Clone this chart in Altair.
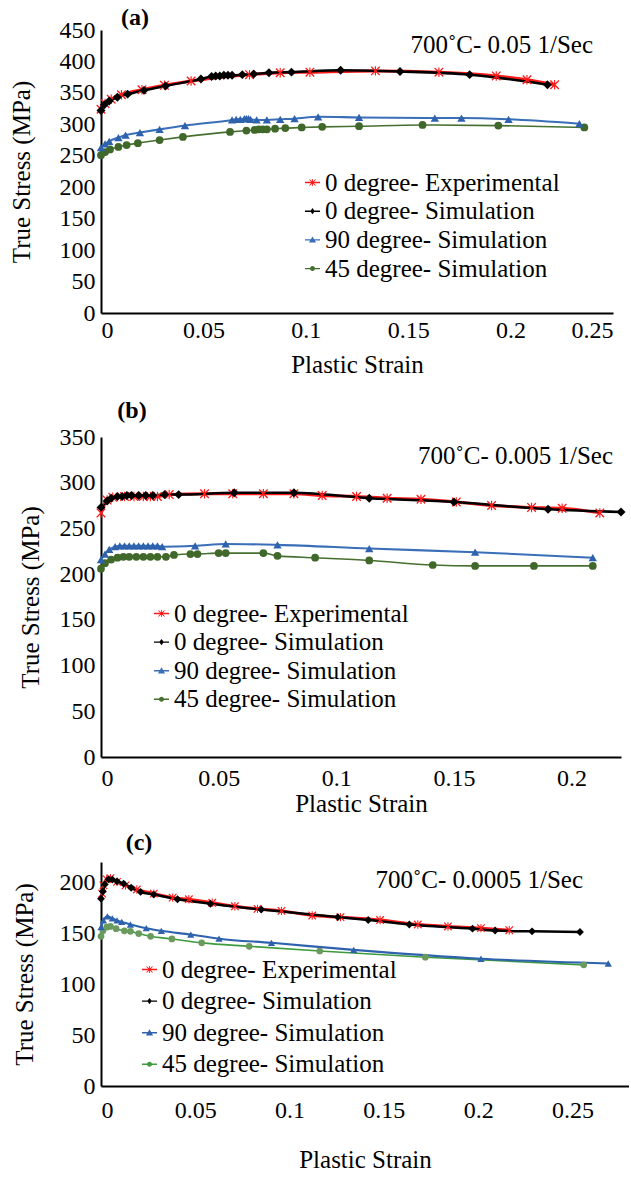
import altair as alt
import pandas as pd

SERIES = ["0 degree- Experimental", "0 degree- Simulation",
          "90 degree- Simulation", "45 degree- Simulation"]
KEYS = ["exp", "sim0", "sim90", "sim45"]

# ---------------- Panel (a): 700C - 0.05 1/s ----------------
A_EXP_X = [0, 0.002, 0.005, 0.01, 0.02, 0.031, 0.044, 0.0725, 0.0875, 0.102, 0.134, 0.165, 0.193, 0.208, 0.2215]
A_EXP_Y = [324, 333, 340, 347, 355, 362, 369, 379, 382, 383, 385, 383, 377, 371, 363]
A_SIM0_X = [0, 0.0016, 0.004, 0.008, 0.013, 0.021, 0.0315, 0.0488, 0.054, 0.056, 0.058, 0.06, 0.062,
            0.064, 0.069, 0.0746, 0.082, 0.093, 0.117, 0.146, 0.18, 0.218]
A_SIM0_Y = [322, 331, 337, 343, 348, 354, 361, 372, 376, 377, 377, 378, 378,
            378, 379, 380, 382, 383, 386, 384, 379, 363]
A_SIM90_X = [0, 0.002, 0.004, 0.0085, 0.012, 0.019, 0.0286, 0.041, 0.064, 0.066, 0.068, 0.07, 0.071,
             0.072, 0.073, 0.076, 0.081, 0.0875, 0.0945, 0.106, 0.126, 0.163, 0.176, 0.199, 0.2336]
A_SIM90_Y = [263, 269, 273, 279, 283, 287, 292, 298, 307, 308, 308, 309, 309,
             309, 308, 307, 307, 308, 309, 312, 311, 310, 310, 308, 301]
A_SIM45_X = [0, 0.002, 0.0044, 0.0085, 0.0125, 0.018, 0.0286, 0.04, 0.063, 0.071, 0.075, 0.077, 0.079,
             0.081, 0.085, 0.09, 0.098, 0.108, 0.126, 0.157, 0.194, 0.236]
A_SIM45_Y = [251, 256, 260, 264, 267, 270, 275, 280, 288, 290, 291, 292, 292,
             292, 293, 294, 295, 296, 297, 299, 298, 295]

# ---------------- Panel (b): 700C - 0.005 1/s ----------------
B_EXP_X = [0, 0.0026, 0.005, 0.01, 0.014, 0.018, 0.021, 0.024, 0.029, 0.044, 0.056, 0.069, 0.082,
           0.094, 0.1086, 0.1216, 0.136, 0.151, 0.166, 0.183, 0.196, 0.212]
B_EXP_Y = [267, 281, 284, 285, 285, 285, 285, 285, 287, 288, 288, 288, 288,
           286, 285, 283, 282, 279, 275, 273, 272, 267]
B_SIM0_X = [0, 0.0026, 0.0043, 0.007, 0.009, 0.011, 0.013, 0.016, 0.019, 0.022, 0.027, 0.033,
            0.0566, 0.082, 0.114, 0.15, 0.19, 0.221]
B_SIM0_Y = [273, 280, 283, 285, 285, 286, 286, 286, 286, 286, 287, 287,
            289, 289, 283, 279, 271, 268]
B_SIM90_X = [0, 0.0017, 0.0035, 0.006, 0.008, 0.01, 0.012, 0.014, 0.016, 0.018, 0.02, 0.022,
             0.024, 0.026, 0.04, 0.053, 0.075, 0.114, 0.159, 0.209]
B_SIM90_Y = [216, 222, 227, 230, 231, 231, 231, 231, 231, 231, 231, 231,
             231, 230, 231, 233, 232, 228, 224, 218]
B_SIM45_X = [0, 0.0017, 0.0043, 0.007, 0.0095, 0.012, 0.015, 0.018, 0.021, 0.024, 0.0276, 0.031,
             0.038, 0.041, 0.05, 0.053, 0.069, 0.075, 0.091, 0.114, 0.141, 0.159, 0.184, 0.209]
B_SIM45_Y = [206, 212, 216, 218, 219, 219, 219, 219, 219, 219, 219, 221,
             222, 222, 223, 223, 223, 220, 218, 215, 210, 209, 209, 209]

# ---------------- Panel (c): 700C - 0.0005 1/s ----------------
C_EXP_X = [0.0006, 0.0013, 0.003, 0.005, 0.0085, 0.013, 0.019, 0.028, 0.038, 0.0466, 0.059, 0.071,
           0.083, 0.0957, 0.112, 0.127, 0.148, 0.168, 0.184, 0.2015, 0.2165]
C_EXP_Y = [189, 197, 203, 204, 200.5, 197, 193, 189, 185, 183.4, 180, 176.5,
           174, 172, 167.4, 165.8, 163, 158.6, 156.7, 155, 153]
C_SIM0_X = [0, 0.001, 0.002, 0.004, 0.006, 0.0085, 0.012, 0.016, 0.021, 0.028, 0.0406, 0.058,
            0.085, 0.1256, 0.1417, 0.1635, 0.197, 0.209, 0.2286, 0.254]
C_SIM0_Y = [184, 191, 198, 203, 202.7, 201, 198.7, 194.7, 190.6, 188, 183.4, 179,
            173.3, 165.8, 163, 158.6, 154.5, 152.7, 151.9, 151.3]
C_SIM90_X = [0, 0.0013, 0.0034, 0.006, 0.0085, 0.011, 0.0156, 0.024, 0.032, 0.0476, 0.0626,
             0.0904, 0.134, 0.2015, 0.269]
C_SIM90_Y = [156, 162.6, 166.6, 164.7, 162.6, 161.2, 158.6, 155, 152.4, 148.7, 144.7,
             140.6, 133.7, 125, 120.3]
C_SIM45_X = [0, 0.001, 0.003, 0.005, 0.008, 0.0124, 0.0156, 0.02, 0.0263, 0.0376, 0.0534,
             0.0786, 0.116, 0.172, 0.256]
C_SIM45_Y = [147, 152.4, 156, 156.7, 154.5, 152.4, 151.9, 149.7, 147, 144.4, 140.6,
             137.2, 132.6, 126.5, 119]

FONT = "Liberation Serif"
STAR = ("M-1,-0.8L-0.8,-1L0,-0.2L0.8,-1L1,-0.8L0.2,0L1,0.8L0.8,1L0,0.2L-0.8,1L-1,0.8L-0.2,0Z"
        "M-0.12,-1L0.12,-1L0.12,1L-0.12,1Z")
SHAPES = [STAR, "diamond", "triangle-up", "circle"]
# legend symbols: short line segment with the marker on it (Excel style)
SEG = "M-1.8,-0.17L1.8,-0.17L1.8,0.17L-1.8,0.17Z"
LEG_SHAPES = [
    SEG + "M-0.8,-0.65L-0.65,-0.8L0,-0.15L0.65,-0.8L0.8,-0.65L0.15,0L0.8,0.65L0.65,0.8L0,0.15L-0.65,0.8L-0.8,0.65L-0.15,0Z"
          "M-0.1,-0.85L0.1,-0.85L0.1,0.85L-0.1,0.85Z",
    SEG + "M0,-0.75L0.55,0L0,0.75L-0.55,0Z",
    SEG + "M0,-0.8L0.85,0.65L-0.85,0.65Z",
    SEG + "M-0.6,0A0.6,0.6 0 1,1 0.6,0A0.6,0.6 0 1,1 -0.6,0Z",
]


def make_df(exp, sim0, sim90, sim45):
    rows = []
    order = [(3, sim45), (2, sim90), (0, exp), (1, sim0)]
    for k, (xs, ys) in order:
        for i, (x, y) in enumerate(zip(xs, ys)):
            rows.append({"series": SERIES[k], "key": KEYS[k], "strain": x, "stress": y, "idx": i})
    return pd.DataFrame(rows)


def panel(df, tag, note, xmax, xvals, ymax, yvals, width, height, line_colors, point_colors,
          legend_x, legend_y, legend_row, note_x, note_y, tag_x, tag_y,
          y_title_x, x_label_pad, x_title_pad, sizes):
    xenc = alt.X("strain:Q", scale=alt.Scale(domain=[0, xmax], nice=False, zero=True),
                 axis=alt.Axis(values=xvals, format="~g", title="Plastic Strain",
                               labelFont=FONT, titleFont=FONT,
                               labelPadding=x_label_pad, titlePadding=x_title_pad))
    yenc = alt.Y("stress:Q", scale=alt.Scale(domain=[0, ymax], nice=False),
                 axis=alt.Axis(values=yvals, title="True Stress (MPa)", titleX=y_title_x,
                               labelFont=FONT, titleFont=FONT, labelPadding=6))
    base = alt.Chart(df)
    lines = base.mark_line(interpolate="monotone").encode(
        x=xenc, y=yenc,
        stroke=alt.Stroke("key:N", scale=alt.Scale(domain=KEYS, range=line_colors), legend=None),
        strokeWidth=alt.StrokeWidth("key:N", scale=alt.Scale(domain=KEYS, range=[3, 1.6, 2, 2]),
                                    legend=None),
        order="idx:Q",
    )
    points = base.mark_point(filled=True, opacity=1).encode(
        x=xenc, y=yenc,
        color=alt.Color("key:N", scale=alt.Scale(domain=KEYS, range=point_colors), legend=None),
        shape=alt.Shape("key:N", scale=alt.Scale(domain=KEYS, range=SHAPES), legend=None),
        size=alt.Size("key:N", scale=alt.Scale(domain=KEYS, range=sizes), legend=None),
    )
    leg = alt.Legend(orient="none", legendX=legend_x, legendY=legend_y, title=None,
                     labelFont=FONT, labelFontSize=25, labelColor="black", labelLimit=400,
                     symbolSize=70, rowPadding=legend_row, labelOffset=0)
    # legend-only layer: no rows survive the filter, the explicit domain still lists the series
    legend_layer = base.transform_filter("datum.idx < 0").mark_point(filled=True, opacity=1).encode(
        x=xenc, y=yenc,
        color=alt.Color("series:N", scale=alt.Scale(domain=SERIES, range=line_colors), legend=leg),
        shape=alt.Shape("series:N", scale=alt.Scale(domain=SERIES, range=LEG_SHAPES), legend=leg),
    )
    note_layer = alt.Chart(pd.DataFrame({"t": [note]})).mark_text(
        font=FONT, fontSize=25, align="right", baseline="middle", color="black"
    ).encode(x=alt.value(note_x), y=alt.value(note_y), text="t:N")
    tag_layer = alt.Chart(pd.DataFrame({"t": [tag]})).mark_text(
        font=FONT, fontSize=24, fontWeight="bold", align="center", baseline="middle", color="black"
    ).encode(x=alt.value(tag_x), y=alt.value(tag_y), text="t:N")
    return alt.layer(lines, points, legend_layer, note_layer, tag_layer).resolve_scale(
        color="independent", shape="independent"
    ).properties(width=width, height=height)


dfa = make_df((A_EXP_X, A_EXP_Y), (A_SIM0_X, A_SIM0_Y), (A_SIM90_X, A_SIM90_Y), (A_SIM45_X, A_SIM45_Y))
dfb = make_df((B_EXP_X, B_EXP_Y), (B_SIM0_X, B_SIM0_Y), (B_SIM90_X, B_SIM90_Y), (B_SIM45_X, B_SIM45_Y))
dfc = make_df((C_EXP_X, C_EXP_Y), (C_SIM0_X, C_SIM0_Y), (C_SIM90_X, C_SIM90_Y), (C_SIM45_X, C_SIM45_Y))

RED, BLACK, BLUE, GREEN = "#ff1a1a", "#000000", "#2e62ad", "#40682a"

pa = panel(dfa, "(a)", "700˚C- 0.05 1/Sec", 0.25, [0, 0.05, 0.1, 0.15, 0.2, 0.25],
           450, list(range(0, 451, 50)), 512, 283,
           [RED, BLACK, "#3a6fb8", "#46702f"], [RED, BLACK, BLUE, GREEN],
           199, 140, 2.7, 492, 15, 34, -12, -67, 5, 10, [90, 60, 75, 60])
pb = panel(dfb, "(b)", "700˚C- 0.005 1/Sec", 0.221, [0, 0.05, 0.1, 0.15, 0.2],
           350, list(range(0, 351, 50)), 520, 320,
           [RED, BLACK, "#3a6fb8", "#46702f"], [RED, BLACK, BLUE, GREEN],
           48, 164, 2.6, 512, 19, 31, -26, -58, 9, 1, [90, 60, 75, 60])
pc = panel(dfc, "(c)", "700˚C- 0.0005 1/Sec", 0.28, [0, 0.05, 0.1, 0.15, 0.2, 0.25],
           220, list(range(0, 201, 50)), 528, 224,
           [RED, BLACK, "#2e62ad", "#3d9a3d"], [RED, BLACK, BLUE, "#6a9a5e"],
           36, 95, 5.6, 482, 18, 38, -19, -64, 12, 25, [70, 45, 55, 50])

IND = dict(color="independent", shape="independent", size="independent", stroke="independent",
           strokeWidth="independent", x="independent", y="independent")

top = alt.vconcat(pa, pb, spacing=22).resolve_scale(**IND).resolve_legend(
    color="independent", shape="independent")

chart = alt.vconcat(top, pc, spacing=15).resolve_scale(**IND).resolve_legend(
    color="independent", shape="independent"
).configure(
    font=FONT
).configure_view(
    stroke=None
).configure_axis(
    labelFont=FONT, titleFont=FONT, labelFontSize=24, titleFontSize=25, titleFontWeight="normal",
    labelColor="black", titleColor="black", domainColor="black", domainWidth=2,
    ticks=False, grid=False
).configure_legend(
    labelFont=FONT
).properties(
    padding={"left": 8, "top": 6, "right": 0, "bottom": 0}, background="white"
)

chart.save("out.html", embed_options={"renderer": "svg", "actions": False})
